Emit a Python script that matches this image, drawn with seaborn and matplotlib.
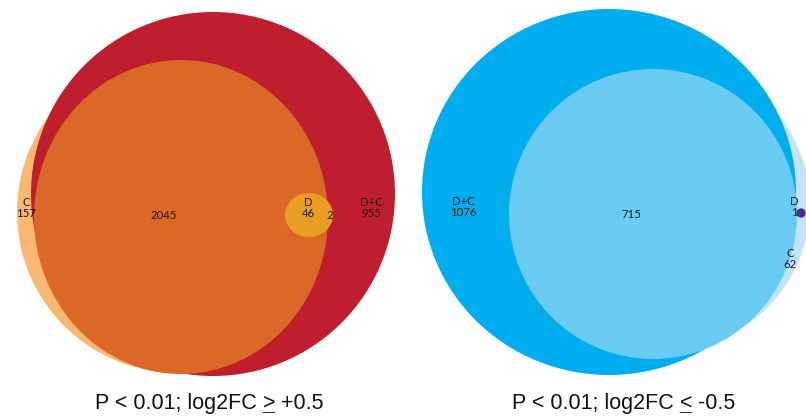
import numpy as np
import seaborn as sns
import matplotlib.pyplot as plt
from matplotlib.patches import Ellipse

# region labels and gene counts
left_names = ["C", "", "D", "", "D+C"]
left_counts = [157, 2045, 46, 2, 955]
right_names = ["D+C", "", "D", "C"]
right_counts = [1076, 715, 1, 62]
titles = [("P < 0.01; log2FC", " >", " +0.5"), ("P < 0.01; log2FC", " <", " -0.5")]

# layout (pixel space of the 806x419 canvas, y down)
left_label_xy = [(26, 208), (164, 215), (308, 208), (330, 215), (371, 208)]
right_label_xy = [(463, 207), (631, 214), (794, 207), (790, 259)]
# (cx, cy, width, height, colour) in draw order
left_shapes = [
    (178, 212, 322, 322, "#fbb872"),   # C
    (213, 194, 364, 364, "#be1e2d"),   # D+C
    (181, 217, 294, 314, "#dc6828"),   # C and D+C
    (309, 215, 48, 44, "#e99e22"),     # D
]
right_shapes = [
    (665, 205, 290, 290, "#c2e4f8"),   # C
    (609, 192, 374, 366, "#00aeef"),   # D+C
    (653, 214, 288, 290, "#6acbf3"),   # C and D+C
]
dot = (801, 213)
title_x = [95, 512]
title_y = 409

sns.set_theme(style="white")
plt.rcParams["font.family"] = ["Lato", "DejaVu Sans"]

fig = plt.figure(figsize=(8.06, 4.19), dpi=100)
ax = fig.add_axes([0, 0, 1, 1])

for cx, cy, w, h, col in left_shapes + right_shapes:
    ax.add_patch(Ellipse((cx, cy), w, h, facecolor=col, edgecolor="none", zorder=1))

sns.scatterplot(x=[dot[0]], y=[dot[1]], s=45, color="#4b2d8a", edgecolor="none",
                ax=ax, zorder=3, legend=False)
ax.set_xlim(0, 806)
ax.set_ylim(419, 0)
ax.axis("off")

for names, counts, xy in [(left_names, left_counts, left_label_xy),
                          (right_names, right_counts, right_label_xy)]:
    for n, c, (x, y) in zip(names, counts, xy):
        txt = f"{n}\n{c}" if n else str(c)
        ax.text(x, y, txt, ha="center", va="center", fontsize=8.2,
                linespacing=1.1, color="#1a1a1a", zorder=4)

tfont = dict(fontsize=15.5, family="Liberation Sans", color="#111111")
for (pre, sym, post), x in zip(titles, title_x):
    t1 = ax.text(x, title_y, pre, ha="left", va="baseline", **tfont)
    t2 = ax.annotate(sym, xy=(1, 0), xycoords=t1, ha="left", va="bottom", **tfont)
    ax.annotate(" _", xy=(0, 0), xycoords=t2, ha="left", va="bottom",
                fontweight="bold", **tfont)
    ax.annotate(post, xy=(1, 0), xycoords=t2, ha="left", va="bottom", **tfont)

fig.savefig("out.png", dpi=100)
